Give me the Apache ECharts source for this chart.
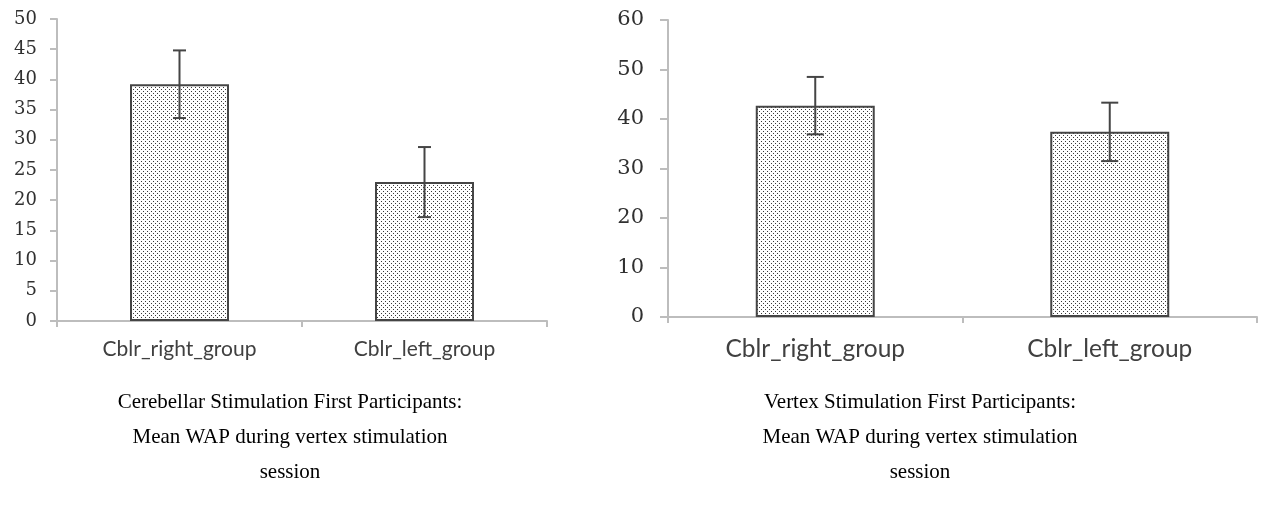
<!DOCTYPE html>
<html>
<head>
<meta charset="utf-8">
<script src="https://cdn.jsdelivr.net/npm/echarts@6/dist/echarts.min.js"></script>
<style>
  html, body { margin: 0; padding: 0; background: #ffffff; }
  #chart { width: 1266px; height: 525px; }
</style>
</head>
<body>
<div id="chart"></div>
<script>
// Group names shared by both panels
const categories = ['Cblr_right_group', 'Cblr_left_group'];

// Cerebellar-stimulation-first participants: mean WAP and error (±)
const cerebellarMeans = [39.2, 23.0];
const cerebellarErrors = [5.6, 5.8];

// Vertex-stimulation-first participants: mean WAP and error (±)
const vertexMeans = [42.7, 37.4];
const vertexErrors = [5.8, 5.9];

// Y-axis tick settings for each panel
const leftTicks = { min: 0, max: 50, interval: 5 };
const rightTicks = { min: 0, max: 60, interval: 10 };

// Panel captions
const leftCaption = 'Cerebellar Stimulation First Participants:\nMean WAP during vertex stimulation\nsession';
const rightCaption = 'Vertex Stimulation First Participants:\nMean WAP during vertex stimulation\nsession';

// Stippled fill for the bars
function makeDotPattern() {
  const c = document.createElement('canvas');
  c.width = 4; c.height = 4;
  const ctx = c.getContext('2d');
  ctx.fillStyle = '#ffffff';
  ctx.fillRect(0, 0, 4, 4);
  ctx.fillStyle = '#3a3a3a';
  ctx.fillRect(1, 1, 1, 1);
  ctx.fillRect(3, 3, 1, 1);
  return c;
}
const dotPattern = makeDotPattern();

const axisGray = '#bdbdbd';
const inkGray = '#454545';

function errorSeries(gridIdx, means, errs, capHalf) {
  return {
    type: 'custom',
    xAxisIndex: gridIdx,
    yAxisIndex: gridIdx,
    z: 5,
    silent: true,
    data: means.map((m, i) => [i, m - errs[i], m + errs[i]]),
    renderItem: function (params, api) {
      const lo = api.coord([api.value(0), api.value(1)]);
      const hi = api.coord([api.value(0), api.value(2)]);
      const style = { stroke: inkGray, lineWidth: 2 };
      return {
        type: 'group',
        children: [
          { type: 'line', shape: { x1: hi[0], y1: hi[1], x2: lo[0], y2: lo[1] }, style: style },
          { type: 'line', shape: { x1: hi[0] - capHalf, y1: hi[1], x2: hi[0] + capHalf, y2: hi[1] }, style: style },
          { type: 'line', shape: { x1: lo[0] - capHalf, y1: lo[1], x2: lo[0] + capHalf, y2: lo[1] }, style: style }
        ]
      };
    }
  };
}

function xAxisFor(gridIdx, fontSize, margin) {
  return {
    type: 'category',
    gridIndex: gridIdx,
    data: categories,
    axisLine: { lineStyle: { color: axisGray, width: 2 } },
    axisTick: { show: true, length: 6, lineStyle: { color: axisGray, width: 2 } },
    axisLabel: { color: '#404040', fontFamily: 'Lato', fontSize: fontSize, margin: margin }
  };
}

function yAxisFor(gridIdx, ticks, fontSize, tickLen, margin) {
  return {
    type: 'value',
    gridIndex: gridIdx,
    min: ticks.min,
    max: ticks.max,
    interval: ticks.interval,
    axisLine: { show: true, lineStyle: { color: axisGray, width: 2 } },
    axisTick: { show: true, length: tickLen, lineStyle: { color: axisGray, width: 2 } },
    splitLine: { show: false },
    axisLabel: { color: '#303030', fontFamily: 'DejaVu Serif', fontSize: fontSize, margin: margin }
  };
}

function barSeries(gridIdx, means) {
  return {
    type: 'bar',
    xAxisIndex: gridIdx,
    yAxisIndex: gridIdx,
    data: means,
    barWidth: '40.4%',
    itemStyle: {
      color: { image: dotPattern, repeat: 'repeat' },
      borderColor: inkGray,
      borderWidth: 2
    }
  };
}

const captionStyle = {
  fontFamily: 'Liberation Serif', fontWeight: 'normal', fontSize: 21, lineHeight: 35, color: '#000000'
};

const chart = echarts.init(document.getElementById('chart'), null, { renderer: 'canvas' });
chart.setOption({
  animation: false,
  backgroundColor: '#ffffff',
  grid: [
    { left: 57, top: 19, width: 490, height: 302 },
    { left: 668, top: 20, width: 589, height: 297 }
  ],
  xAxis: [xAxisFor(0, 21, 18), xAxisFor(1, 24.5, 20)],
  yAxis: [yAxisFor(0, leftTicks, 18, 7, 20), yAxisFor(1, rightTicks, 21, 8, 24)],
  title: [
    { text: leftCaption, left: 285, top: 380, textAlign: 'center', textStyle: captionStyle },
    { text: rightCaption, left: 915, top: 380, textAlign: 'center', textStyle: captionStyle }
  ],
  series: [
    barSeries(0, cerebellarMeans),
    errorSeries(0, cerebellarMeans, cerebellarErrors, 6.5),
    barSeries(1, vertexMeans),
    errorSeries(1, vertexMeans, vertexErrors, 8.5)
  ]
});
</script>
</body>
</html>
